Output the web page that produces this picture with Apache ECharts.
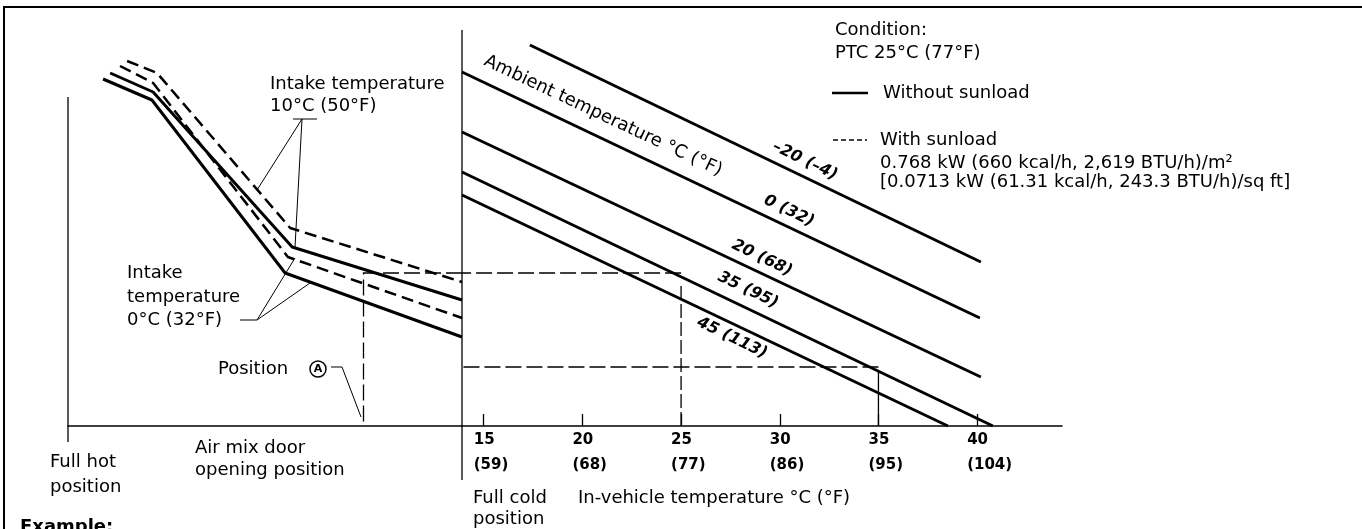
<!DOCTYPE html>
<html>
<head>
<meta charset="utf-8">
<title>Air mix door opening vs in-vehicle temperature</title>
<script src="https://cdn.jsdelivr.net/npm/echarts/dist/echarts.min.js"></script>
<style>
  html, body { margin: 0; padding: 0; background: #fff; }
  #chart { width: 1362px; height: 529px; }
</style>
</head>
<body>
<div id="chart"></div>
<script>
  // in-vehicle temperature axis (right panel), °C and °F
  const tempTicks = [15, 20, 25, 30, 35, 40];
  const tempTicksF = [59, 68, 77, 86, 95, 104];

  // ambient temperature lines: [in-vehicle °C, door curve level]
  const ambM20 = [[17.34, 95.25], [40.19, 41]];
  const amb0 = [[13.9, 88.5], [40.14, 27]];
  const amb20 = [[13.9, 73.5], [40.19, 12.25]];
  const amb35 = [[13.9, 63.5], [40.8, 0]];
  const amb45 = [[13.9, 57.75], [38.52, 0]];

  // intake temperature curves: [air mix door opening %, level]
  const intake10Sun = [[15, 91.25], [22.6, 88.25], [56.4, 49.5], [100, 36]];
  const intake10 = [[10.7, 88.25], [21.6, 83.5], [56.9, 44.75], [100, 31.5]];
  const intake0Sun = [[13.2, 90], [21.6, 85.75], [55.8, 42.25], [100, 27]];
  const intake0 = [[8.9, 86.75], [21.3, 81.5], [55.1, 38.25], [100, 22.25]];

  // worked examples (ambient 35°C)
  const exUp25 = [[25, 0], [25, 36]];
  const exAcross25 = [[25, 38.25], [13.9, 38.25]];
  const exDownA = [[100, 38.25], [75, 38.25], [75, 0]];
  const exUp35 = [[35, 0], [35, 13.5]];
  const exAcross35 = [[35, 14.75], [13.9, 14.75]];

  // full hot / full cold position lines
  const fullHot = [[0, 82.25], [0, -4]];
  const fullCold = [[100, 99], [100, -13.5]];

  const FONT = '"DejaVu Sans", sans-serif';
  const BLACK = '#000';

  function lineSeries(name, data, grid, style) {
    return {
      name: name,
      type: 'line',
      xAxisIndex: grid,
      yAxisIndex: grid,
      data: data,
      symbol: 'none',
      clip: false,
      silent: true,
      lineStyle: Object.assign({ color: BLACK, width: 3 }, style || {})
    };
  }

  function arrowSeries(coords, grid, style, arrow) {
    return {
      type: 'lines',
      coordinateSystem: 'cartesian2d',
      xAxisIndex: grid,
      yAxisIndex: grid,
      polyline: true,
      silent: true,
      symbol: ['none', arrow ? 'arrow' : 'none'],
      symbolSize: 10,
      lineStyle: Object.assign({ color: BLACK, width: 1.3, opacity: 1, curveness: 0 }, style || {}),
      data: [{ coords: coords }]
    };
  }

  function txt(x, y, s, extra) {
    const el = {
      type: 'text', x: x, y: y, silent: true,
      style: { text: s, font: '18px ' + FONT, fill: BLACK, textAlign: 'left', textVerticalAlign: 'middle' }
    };
    if (extra) {
      if (extra.style) Object.assign(el.style, extra.style);
      if (extra.rotation !== undefined) el.rotation = extra.rotation;
    }
    return el;
  }

  function lineLabel(x, y, s) {
    return txt(x, y, s, {
      rotation: -0.45,
      style: { font: 'italic bold 16px ' + FONT, textAlign: 'center' }
    });
  }

  function poly(points, width, dash) {
    return {
      type: 'polyline', silent: true,
      shape: { points: points },
      style: { stroke: BLACK, lineWidth: width, fill: null, lineDash: dash || null }
    };
  }

  const myChart = echarts.init(document.getElementById('chart'));

  // both panels share the same level scale: 0 sits on the horizontal axis (y = 426px)
  const option = {
    animation: false,
    backgroundColor: '#fff',
    grid: [
      { left: 68, width: 394, top: 0, height: 426, containLabel: false, outerBoundsMode: 'none' },
      { left: 462, width: 600, top: 0, height: 426, containLabel: false, outerBoundsMode: 'none' }
    ],
    xAxis: [
      {
        gridIndex: 0, type: 'value', min: 0, max: 100,
        axisLine: { onZero: false, lineStyle: { color: BLACK, width: 1.6 } },
        axisTick: { show: false },
        axisLabel: { show: false },
        splitLine: { show: false }
      },
      {
        gridIndex: 1, type: 'value', min: 13.9, max: 44.3,
        axisLine: { onZero: false, lineStyle: { color: BLACK, width: 1.6 } },
        axisTick: {
          show: true, inside: true, length: 12,
          customValues: tempTicks,
          lineStyle: { color: BLACK, width: 1.3 }
        },
        axisLabel: {
          show: true, margin: 2,
          customValues: tempTicks,
          formatter: function (v) {
            const i = tempTicks.indexOf(v);
            return '{a|' + v + '}\n{a|(' + tempTicksF[i] + ')}';
          },
          rich: {
            a: { fontFamily: FONT, fontWeight: 'bold', fontSize: 15, lineHeight: 25, color: BLACK, width: 20, align: 'left' }
          }
        },
        splitLine: { show: false }
      }
    ],
    yAxis: [
      { gridIndex: 0, type: 'value', min: 0, max: 106.5, show: false },
      { gridIndex: 1, type: 'value', min: 0, max: 106.5, show: false }
    ],
    series: [
      // left panel: intake temperature curves
      lineSeries('10°C with sunload', intake10Sun, 0, { width: 2.5, type: [12, 6] }),
      lineSeries('10°C', intake10, 0),
      lineSeries('0°C with sunload', intake0Sun, 0, { width: 2.5, type: [12, 6] }),
      lineSeries('0°C', intake0, 0),
      lineSeries('Full hot', fullHot, 0, { width: 1.3 }),
      lineSeries('Full cold', fullCold, 0, { width: 1.3 }),
      // right panel: ambient temperature lines
      lineSeries('-20', ambM20, 1),
      lineSeries('0', amb0, 1),
      lineSeries('20', amb20, 1),
      lineSeries('35', amb35, 1),
      lineSeries('45', amb45, 1),
      // examples
      arrowSeries(exUp25, 1, { type: [14, 4] }, true),
      arrowSeries(exAcross25, 1, { type: [16, 5] }, false),
      arrowSeries(exDownA, 0, { type: [16, 5] }, true),
      arrowSeries(exUp35, 1, {}, true),
      arrowSeries(exAcross35, 1, { type: [16, 5] }, true)
    ],
    graphic: [
      // frame
      poly([[4, 529], [4, 7], [1362, 7]], 2),
      // left panel notes
      txt(270, 84, 'Intake temperature'),
      txt(270, 106, '10°C (50°F)'),
      poly([[293, 119], [317, 119]], 1),
      poly([[257, 190], [302, 119], [295, 247]], 1),
      txt(127, 273, 'Intake'),
      txt(127, 297, 'temperature'),
      txt(127, 320, '0°C (32°F)'),
      poly([[240, 320], [257, 320]], 1),
      poly([[295, 258], [257, 320], [310, 283]], 1),
      txt(218, 369, 'Position'),
      {
        type: 'circle', silent: true,
        shape: { cx: 318, cy: 369, r: 8 },
        style: { fill: '#fff', stroke: BLACK, lineWidth: 1.5 }
      },
      txt(318, 369, 'A', { style: { font: 'bold 11px ' + FONT, textAlign: 'center' } }),
      poly([[331, 367], [342, 367], [361, 417]], 1),
      txt(50, 462, 'Full hot'),
      txt(50, 487, 'position'),
      txt(195, 448, 'Air mix door'),
      txt(195, 470, 'opening position'),
      txt(473, 498, 'Full cold'),
      txt(473, 519, 'position'),
      txt(578, 498, 'In-vehicle temperature °C (°F)'),
      txt(20, 518, 'Example:', { style: { font: 'bold 18px ' + FONT, textVerticalAlign: 'top' } }),
      // right panel labels
      txt(603, 116, 'Ambient temperature °C (°F)', { rotation: -0.44, style: { textAlign: 'center' } }),
      lineLabel(805, 161, '–20 (–4)'),
      lineLabel(789, 211, '0 (32)'),
      lineLabel(762, 258, '20 (68)'),
      lineLabel(748, 290, '35 (95)'),
      lineLabel(732, 338, '45 (113)'),
      // condition / legend
      txt(835, 30, 'Condition:'),
      txt(835, 53, 'PTC 25°C (77°F)'),
      poly([[832, 93], [868, 93]], 2.5),
      txt(883, 93, 'Without sunload'),
      poly([[833, 140], [867, 140]], 1.5, [5, 3]),
      txt(880, 140, 'With sunload'),
      txt(880, 163, '0.768 kW (660 kcal/h, 2,619 BTU/h)/m²'),
      txt(880, 182, '[0.0713 kW (61.31 kcal/h, 243.3 BTU/h)/sq ft]')
    ]
  };

  myChart.setOption(option, true);
</script>
</body>
</html>
